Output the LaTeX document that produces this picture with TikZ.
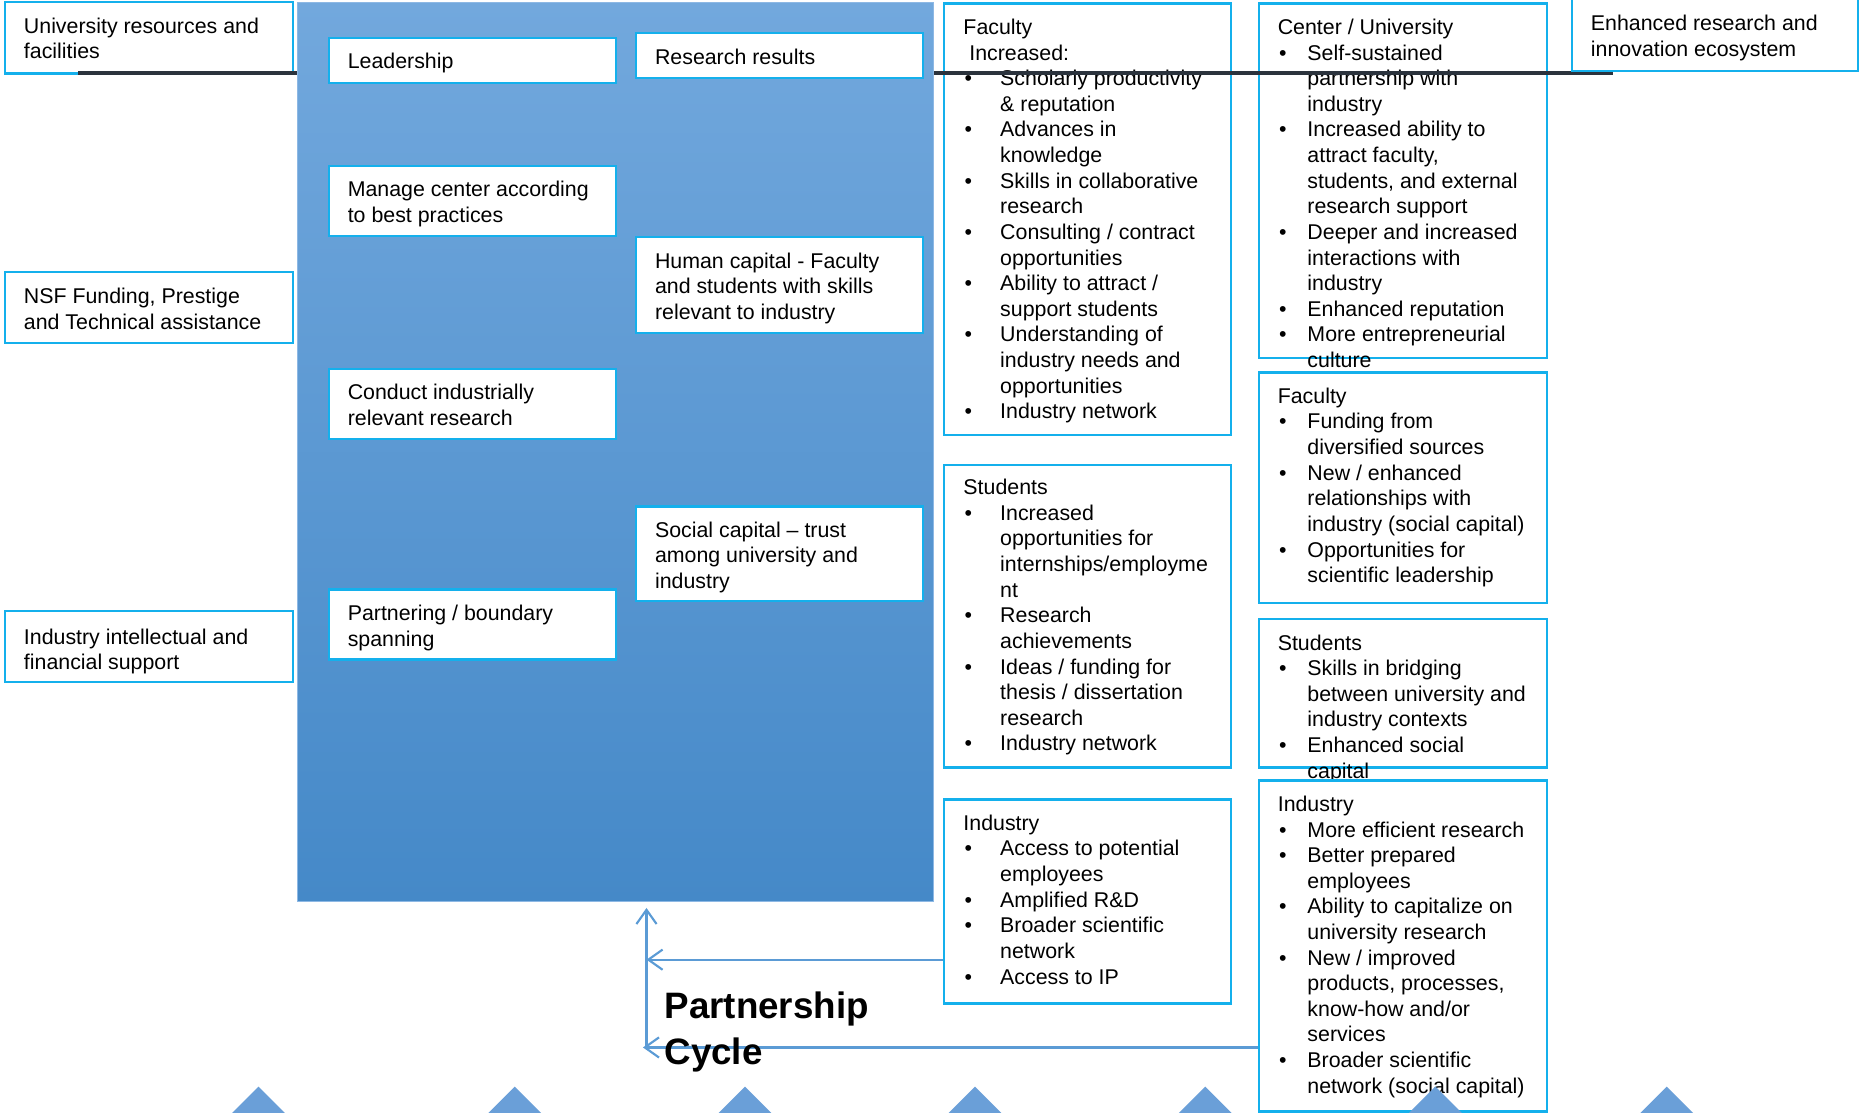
\documentclass[tikz,border=0pt]{standalone}
\usepackage{fontspec}
\setmainfont{Liberation Sans}
\usetikzlibrary{arrows.meta,fit}
\definecolor{boxline}{HTML}{14B0EC}
\definecolor{cyclearrow}{HTML}{5B9BD5}
\definecolor{rulecol}{HTML}{2B333D}
\definecolor{panelTop}{HTML}{72A8DD}
\definecolor{panelBot}{HTML}{4589C8}
\definecolor{panelEdge}{HTML}{8DB8E4}
\definecolor{peakcol}{HTML}{6A9FD8}
\newcommand\bodyfont{\fontsize{18}{21.6}\selectfont}
\newcommand\stack[1]{\begin{tabular}[t]{@{}l@{}}#1\end{tabular}}
% bullets for the two outcome columns
\newcommand\bA{\makebox[31pt][l]{\hspace{1pt}\textbullet}}
\newcommand\cA{\hspace*{31pt}}
\newcommand\bB{\makebox[25pt][l]{\hspace{1pt}\textbullet}}
\newcommand\cB{\hspace*{25pt}}
\begin{document}
\begin{tikzpicture}[x=1pt,y=-1pt,
  cbox/.style={draw=boxline, line width=1.8pt, fill=white, inner sep=0pt},
  txt/.style={anchor=base west, inner sep=0pt, font=\bodyfont},
  cyc/.style={draw=cyclearrow, line width=1.8pt, -{Straight Barb[length=12pt,width=17pt]}},
]
\useasboundingbox (0,0) rectangle (1568,938);
\clip (0,0) rectangle (1568,938);

% inputs
\node[cbox, fit={(4,2) (247,62)}] (inA) {};
\node[txt] (inAt) at (20,28) {\stack{University resources and\\facilities}};
\node[cbox, fit={(4,229) (247,289)}] (inB) {};
\node[txt] (inBt) at (20,256) {\stack{NSF Funding, Prestige\\and Technical assistance}};
\node[cbox, fit={(4,515) (247,575)}] (inC) {};
\node[txt] (inCt) at (20,543) {\stack{Industry intellectual and\\financial support}};

% short-term outcomes
\node[cbox, fit={(796,3) (1038,367)}] (facA) {};
\node[txt] (facAt) at (812,29) {\stack{Faculty\\\hspace*{5pt}Increased:\\
\bA Scholarly productivity\\\cA \& reputation\\
\bA Advances in\\\cA knowledge\\
\bA Skills in collaborative\\\cA research\\
\bA Consulting / contract\\\cA opportunities\\
\bA Ability to attract /\\\cA support students\\
\bA Understanding of\\\cA industry needs and\\\cA opportunities\\
\bA Industry network}};

\node[cbox, fit={(796,392) (1038,647)}] (stuA) {};
\node[txt] (stuAt) at (812,417) {\stack{Students\\
\bA Increased\\\cA opportunities for\\\cA internships/employme\\\cA nt\\
\bA Research\\\cA achievements\\
\bA Ideas / funding for\\\cA thesis / dissertation\\\cA research\\
\bA Industry network}};

\node[cbox, fit={(796,674) (1038,846)}] (indA) {};
\node[txt] (indAt) at (812,700) {\stack{Industry\\
\bA Access to potential\\\cA employees\\
\bA Amplified R\&D\\
\bA Broader scientific\\\cA network\\
\bA Access to IP}};

% long-term outcomes
\node[cbox, fit={(1061,3) (1304,302)}] (cenB) {};
\node[txt] (cenBt) at (1077,29) {\stack{Center / University\\
\bB Self-sustained\\\cB partnership with\\\cB industry\\
\bB Increased ability to\\\cB attract faculty,\\\cB students, and external\\\cB research support\\
\bB Deeper and increased\\\cB interactions with\\\cB industry\\
\bB Enhanced reputation\\
\bB More entrepreneurial\\\cB culture}};

\node[cbox, fit={(1061,314) (1304,508)}] (facB) {};
\node[txt] (facBt) at (1077,340) {\stack{Faculty\\
\bB Funding from\\\cB diversified sources\\
\bB New / enhanced\\\cB relationships with\\\cB industry (social capital)\\
\bB Opportunities for\\\cB scientific leadership}};

\node[cbox, fit={(1061,522) (1304,647)}] (stuB) {};
\node[txt] (stuBt) at (1077,548) {\stack{Students\\
\bB Skills in bridging\\\cB between university and\\\cB industry contexts\\
\bB Enhanced social\\\cB capital}};

\node[cbox, fit={(1061,658) (1304,937)}] (indB) {};
\node[txt] (indBt) at (1077,684) {\stack{Industry\\
\bB More efficient research\\
\bB Better prepared\\\cB employees\\
\bB Ability to capitalize on\\\cB university research\\
\bB New / improved\\\cB products, processes,\\\cB know-how and/or\\\cB services\\
\bB Broader scientific\\\cB network (social capital)}};

% horizontal rule
\draw[rulecol, line width=3.6pt] (66,61.5) -- (1360,61.5);

% center panel with activities and outputs
\node[fit={(251,2) (787,760)}, inner sep=0pt, draw=panelEdge, line width=0.8pt,
      top color=panelTop, bottom color=panelBot] (panel) {};

\node[cbox, fit={(277,32) (519,70)}] (actA) {};
\node[txt] (actAt) at (293,58) {Leadership};
\node[cbox, fit={(277,140) (519,199)}] (actB) {};
\node[txt] (actBt) at (293,166) {\stack{Manage center according\\to best practices}};
\node[cbox, fit={(277,311) (519,370)}] (actC) {};
\node[txt] (actCt) at (293,337) {\stack{Conduct industrially\\relevant research}};
\node[cbox, fit={(277,497) (519,556)}] (actD) {};
\node[txt] (actDt) at (293,523) {\stack{Partnering / boundary\\spanning}};

\node[cbox, fit={(536,28) (778,66)}] (outA) {};
\node[txt] (outAt) at (552,54) {Research results};
\node[cbox, fit={(536,200) (778,281)}] (outB) {};
\node[txt] (outBt) at (552,226) {\stack{Human capital - Faculty\\and students with skills\\relevant to industry}};
\node[cbox, fit={(536,427) (778,507)}] (outC) {};
\node[txt] (outCt) at (552,453) {\stack{Social capital -- trust\\among university and\\industry}};

% impact
\node[cbox, fit={(1325,-1) (1566,60)}] (impact) {};
\node[txt] (impactt) at (1341,26) {\stack{Enhanced research and\\innovation ecosystem}};

% feedback arrows
\coordinate (armid) at (545,809);
\coordinate (arlow) at (545,883);
\draw[cyc] (indA.west |- armid) -- (armid);
\draw[cyc] (indB.west |- arlow) -- ([xshift=-3pt]arlow);
\draw[cyc, shorten >=5pt] (arlow) -- (panel.south -| arlow);

\node[anchor=base west, inner sep=0pt, font=\fontsize{31}{38}\selectfont\bfseries] (cycle) at (560,859) {\stack{Partnership\\Cycle}};

% row of peaks along the bottom edge
\foreach \tx in {218,434,628,822,1016,1210,1405}
  \fill[peakcol] (\tx,916) -- (\tx+26,942) -- (\tx-26,942) -- cycle;
\end{tikzpicture}
\end{document}
